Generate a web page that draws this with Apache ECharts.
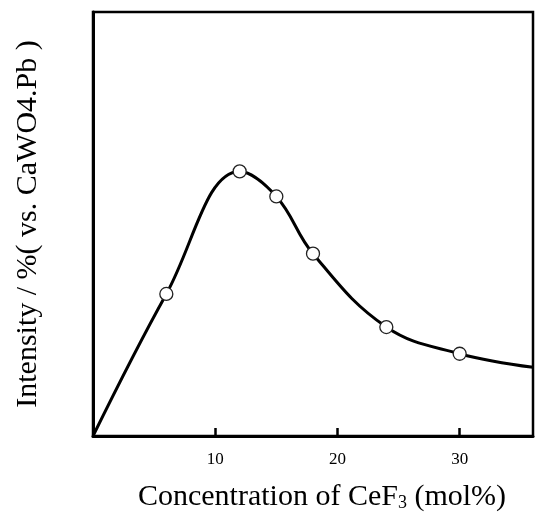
<!DOCTYPE html>
<html>
<head>
<meta charset="utf-8">
<script src="https://cdn.jsdelivr.net/npm/echarts@6/dist/echarts.min.js"></script>
<style>
html,body{margin:0;padding:0;background:#fff;width:100%;height:100%;overflow:hidden;}
#c{width:535px;height:517px;}
</style>
</head>
<body>
<div id="c"></div>
<script>
// Measured points (CeF3 mol%, relative intensity)
var pointX = [6, 12, 15, 18, 24, 30];
var pointY = [33.5, 62.4, 56.5, 43.0, 25.7, 19.4];
// Hand-drawn curve through the points (start and end)
var curveX = [0, 6, 12, 15, 18, 24, 30, 36];
var curveY = [0, 33.5, 62.4, 56.5, 43.0, 25.7, 19.4, 16.2];
var xTicks = [10, 20, 30];

var serif = "'Liberation Serif','Times New Roman',serif";
var chart = echarts.init(document.getElementById('c'), null, {width: 535, height: 517});
chart.setOption({
  animation: false,
  backgroundColor: '#fff',
  grid: {left: 93, right: 2, top: 12, bottom: 66, show: true, borderColor: '#000', borderWidth: 2.5},
  xAxis: {
    type: 'value', min: 0, max: 36, interval: 10,
    axisLine: {show: true, onZero: false, lineStyle: {color: '#000', width: 3}},
    axisTick: {show: true, inside: true, length: 8, lineStyle: {color: '#000', width: 2.5}},
    splitLine: {show: false},
    axisLabel: {
      show: true, showMaxLabel: false, margin: 15, color: '#000', fontFamily: serif, fontSize: 17,
      formatter: function (v) { return xTicks.indexOf(v) >= 0 ? String(v) : ''; }
    },
    name: '{a|Concentration of CeF}{s|3}{a| (mol%)}',
    nameLocation: 'middle', nameGap: 46,
    nameTextStyle: {
      padding: [0, 0, 0, 18],
      rich: {
        a: {fontFamily: serif, fontSize: 30, color: '#000'},
        s: {fontFamily: serif, fontSize: 18, color: '#000', verticalAlign: 'bottom', padding: [10, 0, 0, 0]}
      }
    }
  },
  yAxis: {
    type: 'value', min: 0, max: 100,
    axisLine: {show: true, onZero: false, lineStyle: {color: '#000', width: 3}},
    axisTick: {show: false},
    axisLabel: {show: false},
    splitLine: {show: false},
    name: 'Intensity / %( vs. CaWO4.Pb )',
    nameLocation: 'middle', nameGap: 50,
    nameTextStyle: {fontFamily: serif, fontSize: 30, color: '#000'}
  },
  series: [
    {
      type: 'line', smooth: 0.4, symbol: 'none',
      data: curveX.map(function (x, i) { return [x, curveY[i]]; }),
      lineStyle: {color: '#000', width: 3}, z: 2
    },
    {
      type: 'scatter', symbol: 'circle', symbolSize: 13,
      data: pointX.map(function (x, i) { return [x, pointY[i]]; }),
      itemStyle: {color: '#fff', borderColor: '#222', borderWidth: 1.3, opacity: 1}, z: 3
    }
  ]
});
</script>
</body>
</html>
